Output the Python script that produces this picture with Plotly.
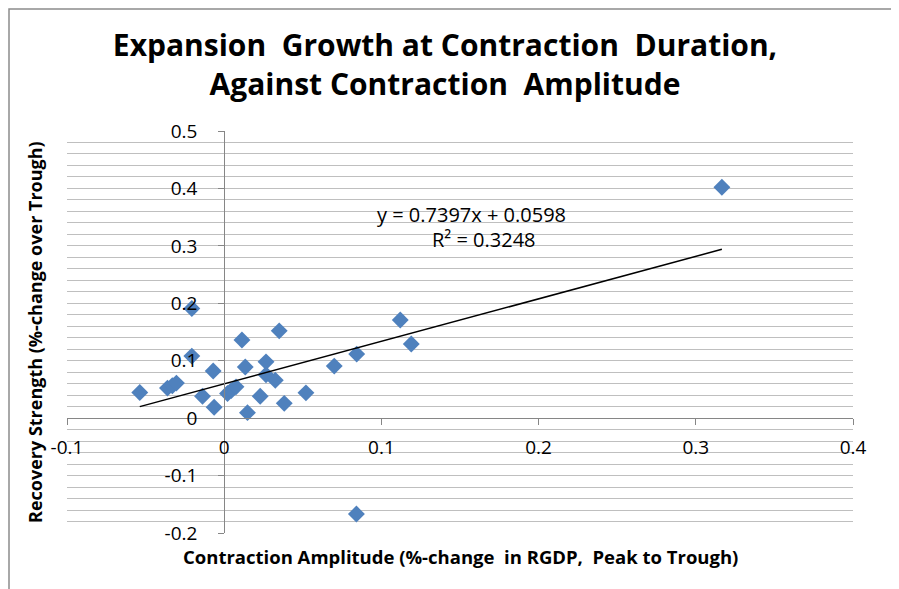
import plotly.graph_objects as go

# dados
amplitude = [-0.0537, -0.0361, -0.0330, -0.0304, -0.0206, -0.0206, -0.0138, -0.0070,
             -0.0064, 0.0021, 0.0045, 0.0075, 0.0113, 0.0134, 0.0148, 0.0229,
             0.0266, 0.0266, 0.0325, 0.0350, 0.0382, 0.0520, 0.0700, 0.0843,
             0.1120, 0.1190, 0.3166, 0.0841]
recuperacao = [0.0446, 0.0523, 0.0565, 0.0610, 0.1910, 0.1080, 0.0380, 0.0820,
               0.0190, 0.0430, 0.0480, 0.0545, 0.1360, 0.0890, 0.0096, 0.0380,
               0.0980, 0.0756, 0.0660, 0.1520, 0.0258, 0.0440, 0.0906, 0.1115,
               0.1710, 0.1290, 0.4020, -0.1670]

inclinacao = 0.7397
intercepto = 0.0598
r2 = 0.3248

x_ticks = [-0.1, 0, 0.1, 0.2, 0.3, 0.4]
x_labels = ['-0.1', '0', '0.1', '0.2', '0.3', '0.4']
y_ticks = [-0.2, -0.1, 0, 0.1, 0.2, 0.3, 0.4, 0.5]
y_labels = ['-0.2', '-0.1', '0', '0.1', '0.2', '0.3', '0.4', '0.5']

titulo = 'Expansion  Growth at Contraction  Duration,<br>Against Contraction  Amplitude'
titulo_x = 'Contraction Amplitude (%-change  in RGDP,  Peak to Trough)'
titulo_y = 'Recovery Strength (%-change over Trough)'

# a página tem margem de 8px, então a figura fica deslocada
OFF = 8
W, H = 899 - OFF, 589 - OFF
ml, mr, mt, mb = 67 - OFF, 46, 131 - OFF, 56
pw, ph = W - ml - mr, H - mt - mb

def px_x(p):
    return (p - OFF - ml) / pw

def px_y(p):
    return (H - mb - (p - OFF)) / ph

fonte = 'Open Sans, Lato, sans-serif'
cinza = '#868686'

# linha de tendência
x_tend = [min(amplitude), max(amplitude)]
y_tend = [inclinacao * v + intercepto for v in x_tend]

fig = go.Figure()
fig.add_trace(go.Scatter(
    x=amplitude, y=recuperacao, mode='markers',
    marker=dict(symbol='diamond', size=13, color='#4F81BD'),
    showlegend=False
))
fig.add_trace(go.Scatter(
    x=x_tend, y=y_tend, mode='lines',
    line=dict(color='black', width=1.5), showlegend=False
))

fig.update_layout(
    width=W, height=H,
    margin=dict(l=ml, r=mr, t=mt, b=mb),
    paper_bgcolor='white', plot_bgcolor='white',
    font=dict(family=fonte, color='black', size=19),
    title=dict(text=titulo, x=(445 - OFF) / W, xanchor='center', y=1 - (56 - OFF) / H,
               yanchor='middle',
               font=dict(family=fonte, size=30, color='black', weight='bold')),
    xaxis=dict(
        range=[-0.1, 0.4], tickvals=x_ticks, ticktext=x_labels,
        showgrid=False, zeroline=False, showline=True, linecolor=cinza, linewidth=1,
        ticks='outside', ticklen=6, tickcolor=cinza,
        anchor='free', position=0.2 / 0.7, ticklabelstandoff=6,
        tickfont=dict(size=19)
    ),
    yaxis=dict(
        range=[-0.2, 0.5], tickvals=y_ticks, ticktext=y_labels,
        showgrid=True, gridcolor='#BFBFBF', gridwidth=1,
        minor=dict(dtick=0.02, tick0=0, showgrid=True, gridcolor='#BFBFBF', gridwidth=1),
        zeroline=False, showline=True, linecolor=cinza, linewidth=1,
        ticks='outside', ticklen=6, tickcolor=cinza,
        anchor='free', position=0.1 / 0.5, ticklabelstandoff=17,
        tickfont=dict(size=19)
    ),
    annotations=[
        dict(text='y = 0.7397x + 0.0598', x=0.157, y=0.354, xref='x', yref='y',
             showarrow=False, font=dict(size=20)),
        dict(text='R² = 0.3248', x=0.165, y=0.311, xref='x', yref='y',
             showarrow=False, font=dict(size=20)),
        dict(text=titulo_x, x=px_x(460), y=px_y(556), xref='paper', yref='paper',
             xanchor='center', yanchor='middle',
             showarrow=False, font=dict(size=18.5, weight='bold')),
        dict(text=titulo_y, x=px_x(35), y=px_y(332), xref='paper', yref='paper',
             xanchor='center', yanchor='middle',
             textangle=-90, showarrow=False, font=dict(size=18, weight='bold')),
    ],
    shapes=[dict(type='rect', xref='paper', yref='paper',
                 x0=px_x(OFF + 1), x1=px_x(896.5), y0=px_y(600), y1=px_y(OFF + 1),
                 line=dict(color='#8C8C8C', width=1.5))]
)

fig.write_html('out.html')
